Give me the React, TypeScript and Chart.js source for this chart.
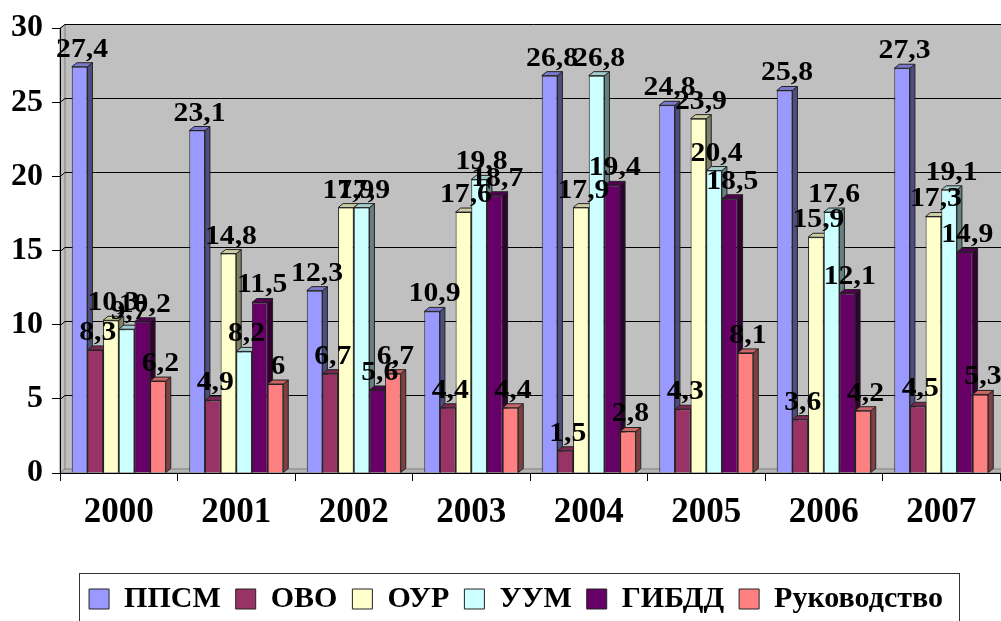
import React, { useEffect, useRef } from 'react';
import { Chart, registerables } from 'chart.js';

Chart.register(...registerables);

const categories = ['2000', '2001', '2002', '2003', '2004', '2005', '2006', '2007'];
const seriesNames = ['ППСМ', 'ОВО', 'ОУР', 'УУМ', 'ГИБДД', 'Руководство'];
const ppsm = [27.4, 23.1, 12.3, 10.9, 26.8, 24.8, 25.8, 27.3];
const ovo = [8.3, 4.9, 6.7, 4.4, 1.5, 4.3, 3.6, 4.5];
const our = [10.3, 14.8, 17.9, 17.6, 17.9, 23.9, 15.9, 17.3];
const uum = [9.7, 8.2, 17.9, 19.8, 26.8, 20.4, 17.6, 19.1];
const gibdd = [10.2, 11.5, 5.6, 18.7, 19.4, 18.5, 12.1, 14.9];
const rukovodstvo = [6.2, 6, 6.7, 4.4, 2.8, 8.1, 4.2, 5.3];
const seriesValues = [ppsm, ovo, our, uum, gibdd, rukovodstvo];
const seriesColors = ['#9999FF', '#993366', '#FFFFCC', '#CCFFFF', '#660066', '#FF8080'];
const yMin = 0;
const yMax = 30;
const yStep = 5;

const FONT = "'Liberation Serif', 'Times New Roman', serif";
const DX = 5;
const DY = 4;
const EDGE = '#222222';

function shade(hex: string, f: number) {
  const n = parseInt(hex.slice(1), 16);
  const r = Math.round(((n >> 16) & 255) * f);
  const g = Math.round(((n >> 8) & 255) * f);
  const b = Math.round((n & 255) * f);
  return `rgb(${r},${g},${b})`;
}

function fmt(v: number) {
  return String(v).replace('.', ',');
}

const wallsPlugin = {
  id: 'walls3d',
  afterLayout(chart: any) {
    if (chart.legend) {
      chart.legend.left = 32;
    }
  },
  beforeDraw(chart: any) {
    const { ctx, chartArea: a, scales } = chart;
    const y = scales.y;
    ctx.save();
    // back wall
    ctx.fillStyle = '#c0c0c0';
    ctx.fillRect(a.left + DX, a.top - DY, a.right - a.left, a.bottom - a.top);
    // left wall
    ctx.beginPath();
    ctx.moveTo(a.left, a.bottom);
    ctx.lineTo(a.left, a.top);
    ctx.lineTo(a.left + DX, a.top - DY);
    ctx.lineTo(a.left + DX, a.bottom - DY);
    ctx.closePath();
    ctx.fill();
    ctx.strokeStyle = '#808080';
    ctx.lineWidth = 1;
    ctx.stroke();
    // floor
    ctx.beginPath();
    ctx.moveTo(a.left, a.bottom);
    ctx.lineTo(a.left + DX, a.bottom - DY);
    ctx.lineTo(a.right + DX, a.bottom - DY);
    ctx.lineTo(a.right, a.bottom);
    ctx.closePath();
    ctx.fillStyle = '#b4b4b4';
    ctx.fill();
    ctx.strokeStyle = '#808080';
    ctx.stroke();
    // gridlines
    ctx.strokeStyle = '#000';
    ctx.lineWidth = 1;
    y.ticks.forEach((t: any) => {
      if (t.value === yMin) return;
      const py = Math.round(y.getPixelForValue(t.value)) + 0.5;
      ctx.beginPath();
      ctx.moveTo(a.left, py);
      ctx.lineTo(a.left + DX, py - DY);
      ctx.lineTo(a.right + DX + 2, py - DY);
      ctx.stroke();
    });
    ctx.restore();
  },
  beforeDatasetsDraw(chart: any) {
    const { ctx } = chart;
    ctx.save();
    ctx.lineWidth = 1;
    ctx.strokeStyle = EDGE;
    chart.data.datasets.forEach((ds: any, di: number) => {
      const meta = chart.getDatasetMeta(di);
      const col = seriesColors[di];
      meta.data.forEach((bar: any) => {
        const { x, y, base, width } = bar.getProps(['x', 'y', 'base', 'width'], true);
        const xl = x - width / 2;
        const xr = x + width / 2;
        ctx.beginPath();
        ctx.moveTo(xr, y);
        ctx.lineTo(xr + DX, y - DY);
        ctx.lineTo(xr + DX, base - DY);
        ctx.lineTo(xr, base);
        ctx.closePath();
        ctx.fillStyle = shade(col, 0.5);
        ctx.fill();
        ctx.stroke();
        ctx.beginPath();
        ctx.moveTo(xl, y);
        ctx.lineTo(xl + DX, y - DY);
        ctx.lineTo(xr + DX, y - DY);
        ctx.lineTo(xr, y);
        ctx.closePath();
        ctx.fillStyle = shade(col, 0.8);
        ctx.fill();
        ctx.stroke();
      });
    });
    ctx.restore();
  },
  afterDatasetsDraw(chart: any) {
    const { ctx } = chart;
    ctx.save();
    ctx.fillStyle = '#000';
    ctx.font = `bold 27px ${FONT}`;
    ctx.textAlign = 'center';
    ctx.textBaseline = 'alphabetic';
    chart.data.datasets.forEach((ds: any, di: number) => {
      const meta = chart.getDatasetMeta(di);
      meta.data.forEach((bar: any, i: number) => {
        const { x, y } = bar.getProps(['x', 'y'], true);
        ctx.save();
        ctx.translate(x + DX / 2, y - DY - 6);
        ctx.scale(1.1, 1);
        ctx.fillText(fmt(ds.data[i]), 0, 0);
        ctx.restore();
      });
    });
    ctx.restore();
  },
  afterDraw(chart: any) {
    const { ctx } = chart;
    const lg = chart.legend;
    const hb = lg && lg.legendHitBoxes;
    if (!hb || !hb.length) return;
    const last = hb[hb.length - 1];
    const left = Math.round(hb[0].left - 10) + 0.5;
    const right = Math.round(last.left + last.width + 16) + 0.5;
    ctx.save();
    ctx.strokeStyle = '#333';
    ctx.lineWidth = 1;
    ctx.strokeRect(left, Math.round(lg.top + 4) + 0.5, right - left, chart.height);
    ctx.restore();
  },
};

export default function App() {
  const ref = useRef<HTMLCanvasElement>(null);
  useEffect(() => {
    if (!ref.current) return;
    Chart.defaults.font.family = FONT;
    const chart = new Chart(ref.current, {
      type: 'bar',
      data: {
        labels: categories,
        datasets: seriesNames.map((name, i) => ({
          label: name,
          data: seriesValues[i],
          backgroundColor: seriesColors[i],
          borderColor: EDGE,
          borderWidth: 1,
          categoryPercentage: 0.8,
          barPercentage: 1,
        })),
      },
      options: {
        responsive: false,
        animation: false,
        layout: { padding: { left: 0, right: 1, top: 23, bottom: 0 } },
        plugins: {
          tooltip: { enabled: false },
          legend: {
            position: 'bottom',
            maxHeight: 52,
            labels: {
              color: '#000',
              font: { size: 30, weight: 'bold', family: FONT },
              boxWidth: 20,
              boxHeight: 20,
              padding: 15,
            },
          },
        },
        scales: {
          x: {
            type: 'category',
            offset: true,
            grid: { display: true, drawOnChartArea: false, drawTicks: true, tickLength: 8, color: '#000', offset: true },
            border: { display: true, color: '#000', width: 1 },
            ticks: {
              color: '#000',
              font: { size: 35, weight: 'bold', family: FONT },
              padding: 11,
              maxRotation: 0,
              autoSkip: false,
            },
            afterFit: (s: any) => { s.height = 96; },
          },
          y: {
            min: yMin,
            max: yMax,
            ticks: {
              stepSize: yStep,
              color: '#000',
              font: { size: 32, weight: 'bold', family: FONT },
              padding: 9,
            },
            grid: { display: true, drawOnChartArea: false, drawTicks: true, tickLength: 8, color: '#000' },
            border: { display: true, color: '#000', width: 1 },
            afterFit: (s: any) => { s.width = 60; },
          },
        },
      } as any,
      plugins: [wallsPlugin],
    });
    return () => chart.destroy();
  }, []);
  return (
    <div style={{ position: 'absolute', left: 0, top: 0, width: 1001, height: 621, background: '#fff' }}>
      <canvas ref={ref} width={1001} height={621} style={{ display: 'block', width: 1001, height: 621 }} />
    </div>
  );
}
